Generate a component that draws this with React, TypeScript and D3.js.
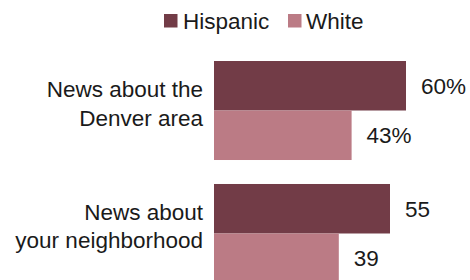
import { useEffect, useRef } from "react";
import * as d3 from "d3";

const categories = ["News about the|Denver area", "News about|your neighborhood"];
const groups = ["Hispanic", "White"];
const hispanicValues = [60, 55];
const whiteValues = [43, 39];
const valueLabels = [
  ["60%", "43%"],
  ["55", "39"],
];

const colors: Record<string, string> = { Hispanic: "#723c47", White: "#bb7b85" };

export default function App() {
  const ref = useRef<SVGSVGElement>(null);

  useEffect(() => {
    const svg = d3.select(ref.current);
    svg.selectAll("*").remove();
    const font = "'Liberation Sans', Arial, sans-serif";
    const fs = 22.5;

    const y = d3.scaleBand<string>().domain(categories).range([61, 283]).paddingInner(0.195).paddingOuter(0);
    const ySub = d3.scaleBand<string>().domain(groups).range([0, y.bandwidth()]);
    const x = d3.scaleLinear().domain([0, 60]).range([214, 406]);

    const rows = categories.map((c, i) => ({
      cat: c,
      vals: [
        { g: "Hispanic", v: hispanicValues[i], label: valueLabels[i][0] },
        { g: "White", v: whiteValues[i], label: valueLabels[i][1] },
      ],
    }));

    const g = svg.selectAll("g.row").data(rows).join("g").attr("class", "row")
      .attr("transform", (d) => `translate(0,${y(d.cat)})`);

    g.selectAll("rect").data((d) => d.vals).join("rect")
      .attr("x", x(0))
      .attr("y", (d) => ySub(d.g)!)
      .attr("width", (d) => x(d.v) - x(0))
      .attr("height", ySub.bandwidth())
      .attr("fill", (d) => colors[d.g]);

    g.selectAll("text.val").data((d) => d.vals).join("text").attr("class", "val")
      .attr("x", (d) => x(d.v) + 15)
      .attr("y", (d) => ySub(d.g)! + ySub.bandwidth() / 2 + 8)
      .attr("font-family", font).attr("font-size", fs).attr("fill", "#1a1a1a")
      .text((d) => d.label);

    g.each(function (d) {
      const lines = d.cat.split("|");
      const t = d3.select(this).append("text")
        .attr("text-anchor", "end").attr("font-family", font)
        .attr("font-size", fs).attr("fill", "#1a1a1a");
      lines.forEach((l, j) => {
        t.append("tspan").attr("x", 203).attr("y", 36 + j * 28.5).text(l);
      });
    });

    // legend
    const legend = [
      { g: "Hispanic", sx: 164, tx: 183 },
      { g: "White", sx: 288, tx: 306 },
    ];
    const lg = svg.selectAll("g.leg").data(legend).join("g").attr("class", "leg");
    lg.append("rect").attr("x", (d) => d.sx).attr("y", 14).attr("width", 13.5).attr("height", 13.5)
      .attr("fill", (d) => colors[d.g]);
    lg.append("text").attr("x", (d) => d.tx).attr("y", 28.5)
      .attr("font-family", font).attr("font-size", fs).attr("fill", "#1a1a1a")
      .text((d) => d.g);
  }, []);

  return (
    <svg ref={ref} width={470} height={280}
      style={{ position: "absolute", left: 0, top: 0, background: "#fff" }} />
  );
}
